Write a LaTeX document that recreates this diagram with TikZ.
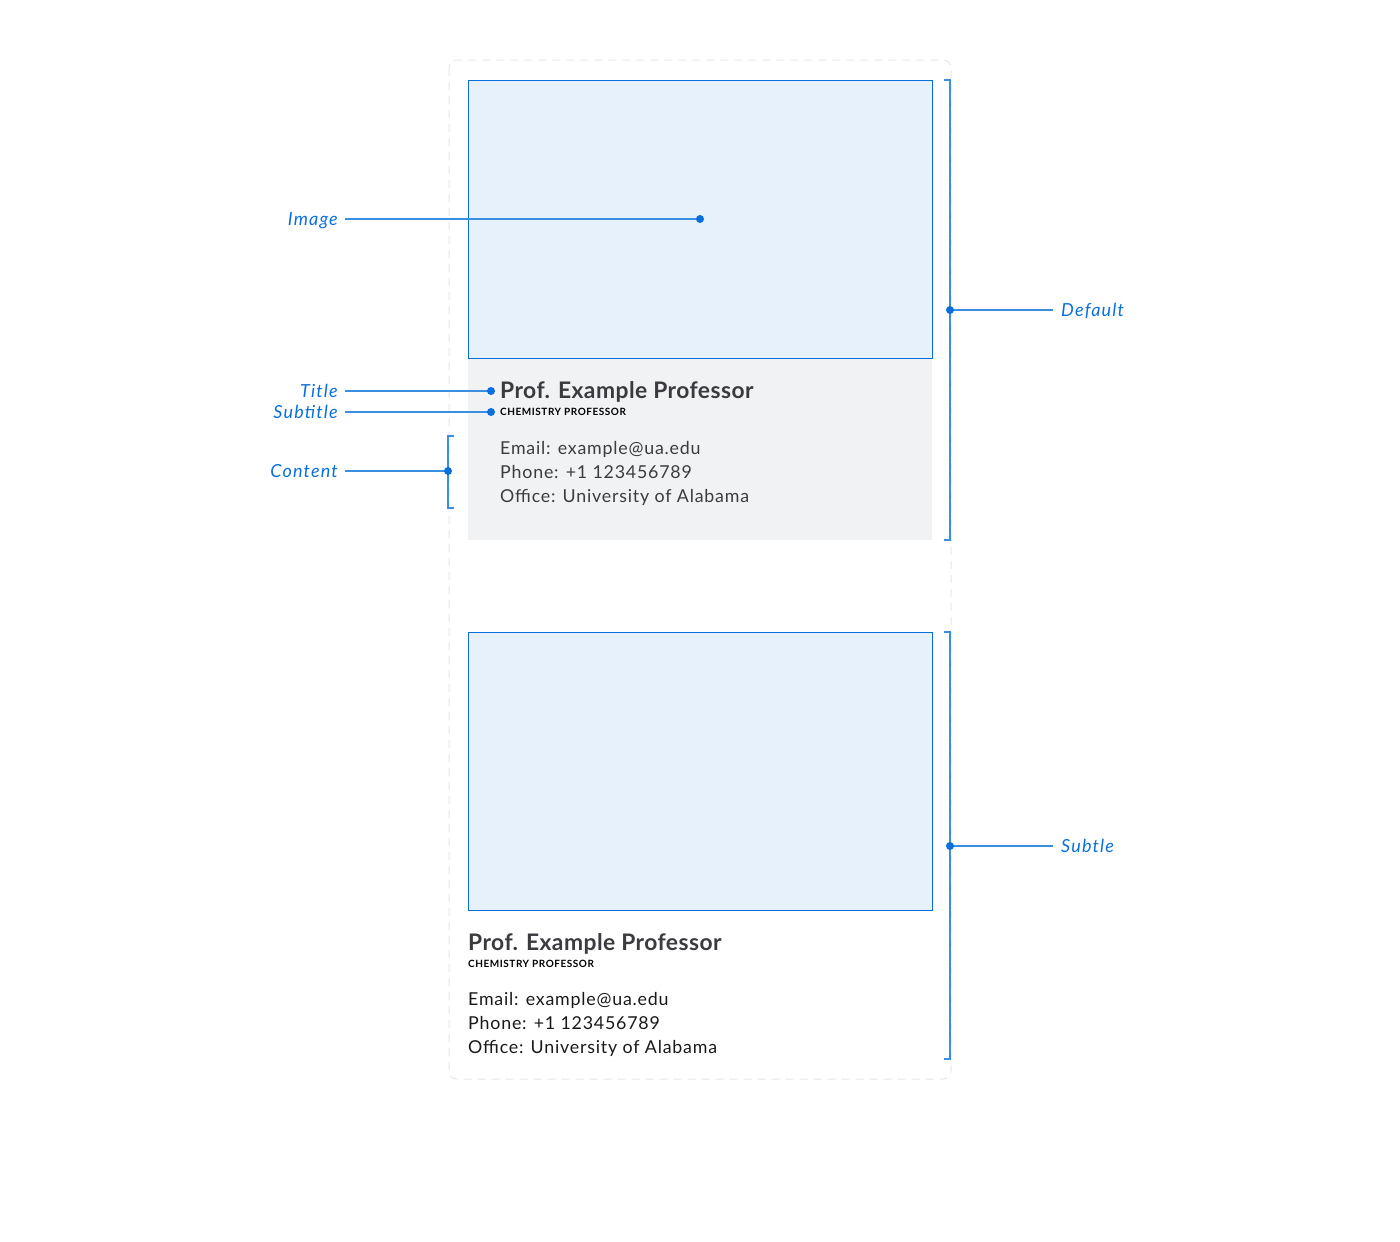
\documentclass[tikz,border=0pt]{standalone}
\usepackage{fontspec}
\setmainfont{Lato}
\newfontfamily\bodyfont[LetterSpace=4.5]{Lato}
\newfontfamily\titlefont[LetterSpace=2.0]{Lato}
\newfontfamily\subfont[LetterSpace=5.5]{Lato}
\newfontfamily\lblfont[LetterSpace=6.5]{Lato}
\definecolor{accent}{HTML}{0A6FDC}
\definecolor{leader}{HTML}{3A8FE3}
\definecolor{imgfill}{HTML}{E7F1FB}
\definecolor{graybg}{HTML}{F1F2F4}
\definecolor{dashgray}{HTML}{E6E6E6}
\definecolor{titlecol}{HTML}{3A3A3F}
\definecolor{bodycol}{HTML}{3C3C40}
\tikzset{
  imgbox/.style={draw=accent, fill=imgfill, line width=1pt},
  leaderline/.style={draw=leader, line width=1.6pt},
  bracketline/.style={draw=leader, line width=1.6pt},
  dotmark/.style={circle, fill=accent, inner sep=0pt, minimum size=8pt},
  lbl/.style={text=accent, font=\lblfont\fontsize{18}{20}\selectfont\itshape, inner sep=0pt},
  titletxt/.style={text=titlecol, font=\titlefont\fontsize{22.8}{24}\selectfont\bfseries, inner sep=0pt, anchor=base west},
  subtxt/.style={text=black, font=\subfont\fontsize{10}{12}\selectfont\bfseries, inner sep=0pt, anchor=base west},
  bodytxt/.style={font=\bodyfont\fontsize{17.8}{24.3}\selectfont, inner sep=0pt, anchor=north west, align=left},
}
\begin{document}
\begin{tikzpicture}[x=1pt,y=-1pt]
\useasboundingbox (0,0) rectangle (1400,1242);
% outer dashed frame
\draw[dashgray, dashed, dash pattern=on 8pt off 6pt, line width=1pt, rounded corners=8pt] (449,60) rectangle (951,1079);

% ---- Default card
\fill[graybg] (468,358) rectangle (932,540);
\path[imgbox] (468,80) rectangle (932,358);
\coordinate (imgc) at (700,219);
\node[titletxt] (t1) at (500,398) {Prof. Example Professor};
\node[subtxt] (s1) at (500,415.5) {CHEMISTRY PROFESSOR};
\node[bodytxt, text=bodycol] (c1) at (500,441) {Email: example@ua.edu\\Phone: +1 123456789\\Office: University of Alabama};

% ---- Subtle card
\path[imgbox] (468,632) rectangle (932,910);
\node[titletxt] (t2) at (468,950) {Prof. Example Professor};
\node[subtxt] (s2) at (468,967.5) {CHEMISTRY PROFESSOR};
\node[bodytxt, text=black!90] (c2) at (468,992) {Email: example@ua.edu\\Phone: +1 123456789\\Office: University of Alabama};

% ---- left labels
\node[lbl, anchor=base east] (limg) at (338,225) {Image};
\node[lbl, anchor=base east] (ltitle) at (338,397) {Title};
\node[lbl, anchor=base east] (lsub) at (338,418) {Subtitle};
\node[lbl, anchor=base east] (lcont) at (338,477) {Content};

\coordinate (titledot) at (491,391);
\coordinate (subdot) at (491,412);
\coordinate (contdot) at (448,471);

\draw[leaderline] ([xshift=7pt]limg.east |- imgc) -- (imgc);
\node[dotmark] at (imgc) {};
\draw[leaderline] ([xshift=7pt]ltitle.east |- titledot) -- (titledot);
\node[dotmark] at (titledot) {};
\draw[leaderline] ([xshift=7pt]lsub.east |- subdot) -- (subdot);
\node[dotmark] at (subdot) {};

% content bracket
\draw[bracketline] (454,436) -- (448,436) -- (448,508) -- (454,508);
\draw[leaderline] ([xshift=7pt]lcont.east |- contdot) -- (contdot);
\node[dotmark] at (contdot) {};

% ---- right brackets
\draw[bracketline] (944,80) -- (950,80) -- (950,540) -- (944,540);
\coordinate (defdot) at (950,310);
\node[lbl, anchor=base west] (ldef) at (1061,316) {Default};
\draw[leaderline] (defdot) -- ([xshift=-8pt]ldef.west |- defdot);
\node[dotmark] at (defdot) {};

\draw[bracketline] (944,632) -- (950,632) -- (950,1059) -- (944,1059);
\coordinate (subtdot) at (950,846);
\node[lbl, anchor=base west] (lsubt) at (1061,852) {Subtle};
\draw[leaderline] (subtdot) -- ([xshift=-8pt]lsubt.west |- subtdot);
\node[dotmark] at (subtdot) {};
\end{tikzpicture}
\end{document}
